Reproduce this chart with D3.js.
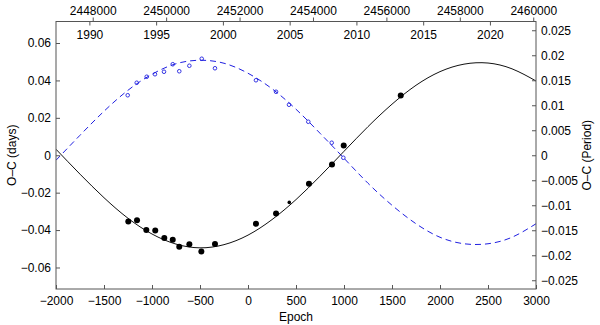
<!DOCTYPE html>
<html>
<head>
<meta charset="utf-8">
<script src="https://cdn.jsdelivr.net/npm/d3@7"></script>
<style>
  html, body { margin: 0; padding: 0; background: #fff; }
  svg { display: block; font-family: "Liberation Sans", Arial, Helvetica, sans-serif; }
  .tick text { font-size: 12px; fill: #000; }
</style>
</head>
<body>
<svg id="chart" width="600" height="325"></svg>
<script>
// ---- Data ----
const obsEpochs  = [-1247, -1156, -1059, -966, -872, -784, -716, -611, -486, -344, 83, 292, 430, 635, 875, 997, 1591];
const obsOCdays  = [-0.0354, -0.0347, -0.0400, -0.0402, -0.0443, -0.0452, -0.0489, -0.0476, -0.0514, -0.0475, -0.0366, -0.0312, -0.0252, -0.0153, -0.0050, 0.0052, 0.0320];
const obsKind    = ["P","P","P","P","P","P","P","P","P","P","P","P","S","P","P","P","P"];

const perEpochs  = [-1253, -1159, -1055, -969, -875, -784, -716, -611, -482, -344, 83, 292, 427, 628, 872, 993];
const perOC      = [0.0120, 0.0145, 0.0157, 0.0162, 0.0167, 0.0182, 0.0168, 0.0179, 0.0193, 0.0174, 0.0150, 0.0127, 0.0101, 0.0067, 0.0025, -0.0005];

const curveEpochs = [-2000, -1750, -1500, -1250, -1000, -750, -500, -250, 0, 250, 500, 750, 1000, 1250, 1500, 1750, 2000, 2250, 2500, 2750, 3000];
const curveDays   = [0.0032, -0.0101, -0.0227, -0.0337, -0.0421, -0.0475, -0.0495, -0.0478, -0.0427, -0.0344, -0.0237, -0.0112, 0.0021, 0.0153, 0.0273, 0.0374, 0.0447, 0.0487, 0.0493, 0.0462, 0.0397];
const curvePeriod = [-0.0010, 0.0040, 0.0088, 0.0130, 0.0162, 0.0183, 0.0190, 0.0184, 0.0164, 0.0133, 0.0092, 0.0044, -0.0006, -0.0056, -0.0100, -0.0137, -0.0164, -0.0177, -0.0177, -0.0164, -0.0137];

const epochTicks  = [-2000, -1500, -1000, -500, 0, 500, 1000, 1500, 2000, 2500, 3000];
const daysTicks   = [-0.06, -0.04, -0.02, 0, 0.02, 0.04, 0.06];
const periodTicks = [-0.025, -0.02, -0.015, -0.01, -0.005, 0, 0.005, 0.01, 0.015, 0.02, 0.025];
const jdTicks     = [2448000, 2450000, 2452000, 2454000, 2456000, 2458000, 2460000];
const yearTicks   = [1990, 1995, 2000, 2005, 2010, 2015, 2020];

const epochDomain  = [-2000, 3000];
const daysDomain   = [-0.0715, 0.0715];
const periodDomain = [-0.02675, 0.02675];
const jdDomain     = [2447000, 2460075];
const yearDomain   = [1987.5, 2023.45];

// ---- Layout ----
const L = 56, R = 536, T = 21.5, B = 289;
const svg = d3.select("#chart");
const axisColor = "#555";

const x  = d3.scaleLinear().domain(epochDomain).range([L, R]);
const xJD = d3.scaleLinear().domain(jdDomain).range([L, R]);
const xYr = d3.scaleLinear().domain(yearDomain).range([L, R]);
const yL = d3.scaleLinear().domain(daysDomain).range([B, T]);
const yR = d3.scaleLinear().domain(periodDomain).range([B, T]);

const clip = svg.append("clipPath").attr("id", "clip")
  .append("rect").attr("x", L).attr("y", T).attr("width", R - L).attr("height", B - T);

// curves
const plot = svg.append("g").attr("clip-path", "url(#clip)");
const blackLine = d3.line().x(d => x(d[0])).y(d => yL(d[1])).curve(d3.curveNatural);
const blueLine  = d3.line().x(d => x(d[0])).y(d => yR(d[1])).curve(d3.curveNatural);

plot.append("path")
  .datum(curvePeriod.map((v, i) => [curveEpochs[i], v]))
  .attr("d", blueLine)
  .attr("fill", "none").attr("stroke", "#2020e0").attr("stroke-width", 1)
  .attr("stroke-dasharray", "6,4");

plot.append("path")
  .datum(curveDays.map((v, i) => [curveEpochs[i], v]))
  .attr("d", blackLine)
  .attr("fill", "none").attr("stroke", "#111").attr("stroke-width", 1);

// blue open circles
plot.selectAll("circle.per")
  .data(perOC.map((v, i) => [perEpochs[i], v]))
  .join("circle").attr("class", "per")
  .attr("cx", d => x(d[0])).attr("cy", d => yR(d[1])).attr("r", 1.8)
  .attr("fill", "none").attr("stroke", "#2020e0").attr("stroke-width", 0.9);

// black filled points
plot.selectAll("circle.obs")
  .data(obsOCdays.map((v, i) => [obsEpochs[i], v, obsKind[i]]))
  .join("circle").attr("class", "obs")
  .attr("cx", d => x(d[0])).attr("cy", d => yL(d[1]))
  .attr("r", d => d[2] === "P" ? 3 : 1.8)
  .attr("fill", "#000");

// ---- Axes ----
function styleAxis(g) {
  g.select(".domain").remove();
  g.selectAll(".tick line").attr("stroke", axisColor);
}

svg.append("g").attr("transform", `translate(0,${B})`)
  .call(d3.axisBottom(x).tickValues(epochTicks).tickFormat(d3.format("d")).tickSize(-4).tickPadding(7))
  .call(styleAxis);

svg.append("g").attr("transform", `translate(${L},0)`)
  .call(d3.axisLeft(yL).tickValues(daysTicks).tickFormat(d => d === 0 ? "0" : d3.format(".2f")(d)).tickSize(-4).tickPadding(5))
  .call(styleAxis);

svg.append("g").attr("transform", `translate(${R},0)`)
  .call(d3.axisRight(yR).tickValues(periodTicks).tickFormat(d => d3.format("")(d)).tickSize(-4).tickPadding(5))
  .call(styleAxis);

// top: JD ticks outward
svg.append("g").attr("transform", `translate(0,${T})`)
  .call(d3.axisTop(xJD).tickValues(jdTicks).tickFormat(d3.format("d")).tickSize(4).tickPadding(3))
  .call(styleAxis);

// top: year ticks inward with labels inside the frame
svg.append("g").attr("transform", `translate(0,${T})`)
  .call(d3.axisBottom(xYr).tickValues(yearTicks).tickFormat(d3.format("d")).tickSize(4).tickPadding(5))
  .call(styleAxis);

// frame
svg.append("rect").attr("x", L).attr("y", T).attr("width", R - L).attr("height", B - T)
  .attr("fill", "none").attr("stroke", axisColor).attr("stroke-width", 1);

// axis titles
svg.append("text").attr("x", (L + R) / 2).attr("y", 321).attr("text-anchor", "middle")
  .attr("font-size", 12).text("Epoch");
svg.append("text").attr("transform", `translate(16,${(T + B) / 2}) rotate(-90)`)
  .attr("text-anchor", "middle").attr("font-size", 12).text("O–C (days)");
svg.append("text").attr("transform", `translate(591,${(T + B) / 2}) rotate(-90)`)
  .attr("text-anchor", "middle").attr("font-size", 12).text("O–C (Period)");
</script>
</body>
</html>
